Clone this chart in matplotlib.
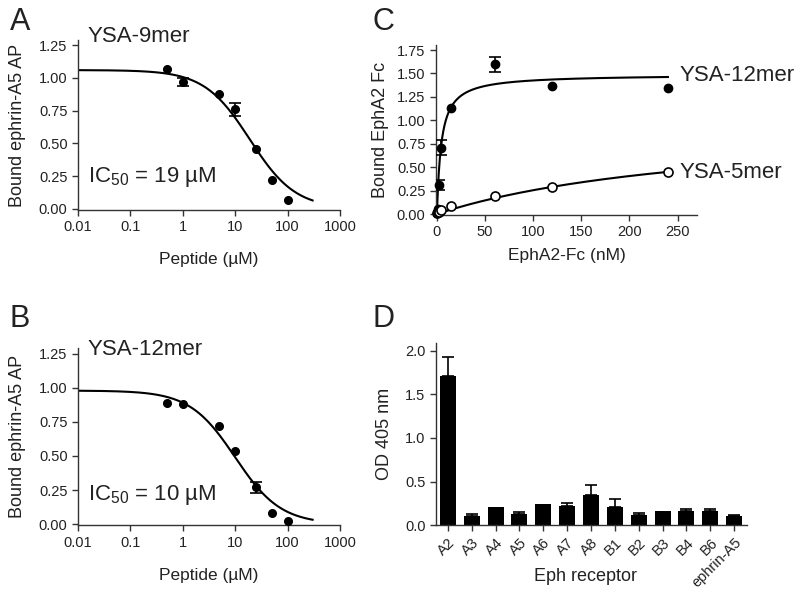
import numpy as np
import matplotlib
matplotlib.use("Agg")
import matplotlib.pyplot as plt

plt.rcParams['font.family'] = ['Liberation Sans', 'DejaVu Sans']
plt.rcParams['mathtext.fontset'] = 'custom'
plt.rcParams['mathtext.rm'] = 'Liberation Sans'
plt.rcParams['mathtext.it'] = 'Liberation Sans'
TXT = '#222222'
AX = '#333333'

# ---- Panel A: YSA-9mer competition ----
a_conc = [0.5, 1, 5, 10, 25, 50, 100]
a_bound = [1.07, 0.97, 0.88, 0.76, 0.46, 0.22, 0.07]
a_err = [0.0, 0.03, 0.0, 0.05, 0.0, 0.0, 0.0]
a_fit = dict(top=1.06, bottom=0.0, ic50=19.0, hill=1.0)

# ---- Panel B: YSA-12mer competition ----
b_conc = [0.5, 1, 5, 10, 25, 50, 100]
b_bound = [0.89, 0.88, 0.72, 0.54, 0.27, 0.08, 0.02]
b_err = [0.0, 0.0, 0.0, 0.0, 0.04, 0.0, 0.0]
b_fit = dict(top=0.98, bottom=0.0, ic50=10.0, hill=1.0)

# ---- Panel C: saturation binding ----
c_conc = [0.5, 1, 2, 4, 15, 60, 120, 240]
c_12mer = [0.01, 0.05, 0.31, 0.71, 1.13, 1.60, 1.37, 1.35]
c_12mer_err = [0.0, 0.0, 0.05, 0.08, 0.0, 0.08, 0.0, 0.0]
c_5mer = [0.01, 0.02, 0.02, 0.04, 0.09, 0.19, 0.29, 0.45]
c_12mer_fit = dict(bmax=1.49, kd=4.5)
c_5mer_fit = dict(bmax=1.0, kd=293.0)

# ---- Panel D: receptor specificity ----
d_receptors = ['A2', 'A3', 'A4', 'A5', 'A6', 'A7', 'A8', 'B1', 'B2', 'B3', 'B4', 'B6', 'ephrin-A5']
d_od = [1.71, 0.10, 0.21, 0.13, 0.24, 0.22, 0.34, 0.21, 0.11, 0.165, 0.16, 0.165, 0.10]
d_err = [0.22, 0.03, 0.0, 0.02, 0.0, 0.03, 0.12, 0.09, 0.03, 0.0, 0.02, 0.025, 0.02]

fig = plt.figure(figsize=(8.0, 5.98), dpi=100)


def style(ax):
    for s in ['top', 'right']:
        ax.spines[s].set_visible(False)
    for s in ['left', 'bottom']:
        ax.spines[s].set_color(AX)
        ax.spines[s].set_linewidth(1.0)
    ax.tick_params(colors=AX, labelcolor=TXT, labelsize=10.5, length=4, width=1.0, direction='out')


def points(ax, x, y, err, **kw):
    x = np.asarray(x); y = np.asarray(y); err = np.asarray(err)
    ax.plot(x, y, 'o', color='black', clip_on=False, zorder=3, **kw)
    m = err > 0
    ax.errorbar(x[m], y[m], yerr=err[m], fmt='none', ecolor='black', capsize=4,
                elinewidth=1.2, capthick=1.2, zorder=3)


def logistic(x, p):
    return p['bottom'] + (p['top'] - p['bottom']) / (1 + (x / p['ic50']) ** p['hill'])


def competition(rect, conc, bound, err, fit, title, ic):
    ax = fig.add_axes(rect)
    style(ax)
    xs = np.logspace(-2, np.log10(300), 300)
    ax.plot(xs, logistic(xs, fit), color='black', lw=1.5)
    points(ax, conc, bound, err, ms=5.5)
    ax.set_xscale('log')
    ax.set_xlim(0.01, 1000)
    ax.set_ylim(-0.01, 1.29)
    ax.set_xticks([0.01, 0.1, 1, 10, 100, 1000])
    ax.set_xticklabels(['0.01', '0.1', '1', '10', '100', '1000'])
    ax.minorticks_off()
    ax.set_yticks([0, 0.25, 0.5, 0.75, 1.0, 1.25])
    ax.set_yticklabels(['0.00', '0.25', '0.50', '0.75', '1.00', '1.25'])
    ax.set_xlabel('Peptide (µM)', fontsize=12.5, color=TXT, labelpad=13)
    ax.set_ylabel('Bound ephrin-A5 AP', fontsize=13, color=TXT, labelpad=9)
    ax.text(0.038, title[1], title[0], transform=ax.transAxes, fontsize=16, color=TXT, va='baseline')
    ax.text(0.038, ic[1], ic[0], transform=ax.transAxes, fontsize=16, color=TXT, va='baseline')
    return ax


axA = competition([0.0975, 0.6488, 0.3275, 0.2843], a_conc, a_bound, a_err, a_fit,
                  ('YSA-9mer', 0.99), (r'IC$_{50}$ = 19 µM', 0.165))
axB = competition([0.0975, 0.1214, 0.3275, 0.296], b_conc, b_bound, b_err, b_fit,
                  ('YSA-12mer', 0.963), (r'IC$_{50}$ = 10 µM', 0.143))

# Panel C
axC = fig.add_axes([0.545, 0.6405, 0.326, 0.2836])
style(axC)
xs = np.linspace(0, 240, 400)
axC.plot(xs, c_12mer_fit['bmax'] * xs / (c_12mer_fit['kd'] + xs), color='black', lw=1.5)
axC.plot(xs, c_5mer_fit['bmax'] * xs / (c_5mer_fit['kd'] + xs), color='black', lw=1.5)
points(axC, c_conc, c_12mer, c_12mer_err, ms=6)
axC.plot(c_conc, c_5mer, 'o', mfc='white', mec='black', mew=1.2, ms=6.5, clip_on=False, zorder=4)
axC.set_xlim(-1, 270)
axC.set_ylim(-0.01, 1.8)
axC.set_xticks([0, 50, 100, 150, 200, 250])
axC.set_yticks([0, 0.25, 0.5, 0.75, 1.0, 1.25, 1.5, 1.75])
axC.set_yticklabels(['0.00', '0.25', '0.50', '0.75', '1.00', '1.25', '1.50', '1.75'])
axC.set_xlabel('EphA2-Fc (nM)', fontsize=12.5, color=TXT, labelpad=6)
axC.set_ylabel('Bound EphA2 Fc', fontsize=13, color=TXT, labelpad=6)
axC.text(252, 1.42, 'YSA-12mer', fontsize=16, color=TXT, va='baseline')
axC.text(252, 0.38, 'YSA-5mer', fontsize=16, color=TXT, va='baseline')

# Panel D
axD = fig.add_axes([0.545, 0.122, 0.389, 0.3043])
style(axD)
pos = np.arange(len(d_receptors))
axD.bar(pos, d_od, width=0.67, color='black')
derr = np.asarray(d_err)
m = derr > 0
axD.errorbar(pos[m], np.asarray(d_od)[m], yerr=[np.zeros(m.sum()), derr[m]], fmt='none',
             ecolor='black', capsize=4, elinewidth=1.2, capthick=1.2)
axD.set_xlim(-0.5, 12.55)
axD.set_ylim(0, 2.09)
axD.set_yticks([0, 0.5, 1.0, 1.5, 2.0])
axD.set_yticklabels(['0.0', '0.5', '1.0', '1.5', '2.0'])
axD.set_xticks(pos)
axD.set_xticklabels(d_receptors, rotation=45, ha='right', rotation_mode='anchor')
axD.set_xlabel('Eph receptor', fontsize=13, color=TXT)
axD.xaxis.set_label_coords(0.48, -0.235)
axD.set_ylabel('OD 405 nm', fontsize=13, color=TXT, labelpad=9)

# Panel letters
for letter, x, y in [('A', 0.012, 0.950), ('B', 0.012, 0.453), ('C', 0.465, 0.950), ('D', 0.466, 0.453)]:
    fig.text(x, y, letter, fontsize=22, color=TXT, va='baseline')

fig.savefig('out.png', dpi=100)
